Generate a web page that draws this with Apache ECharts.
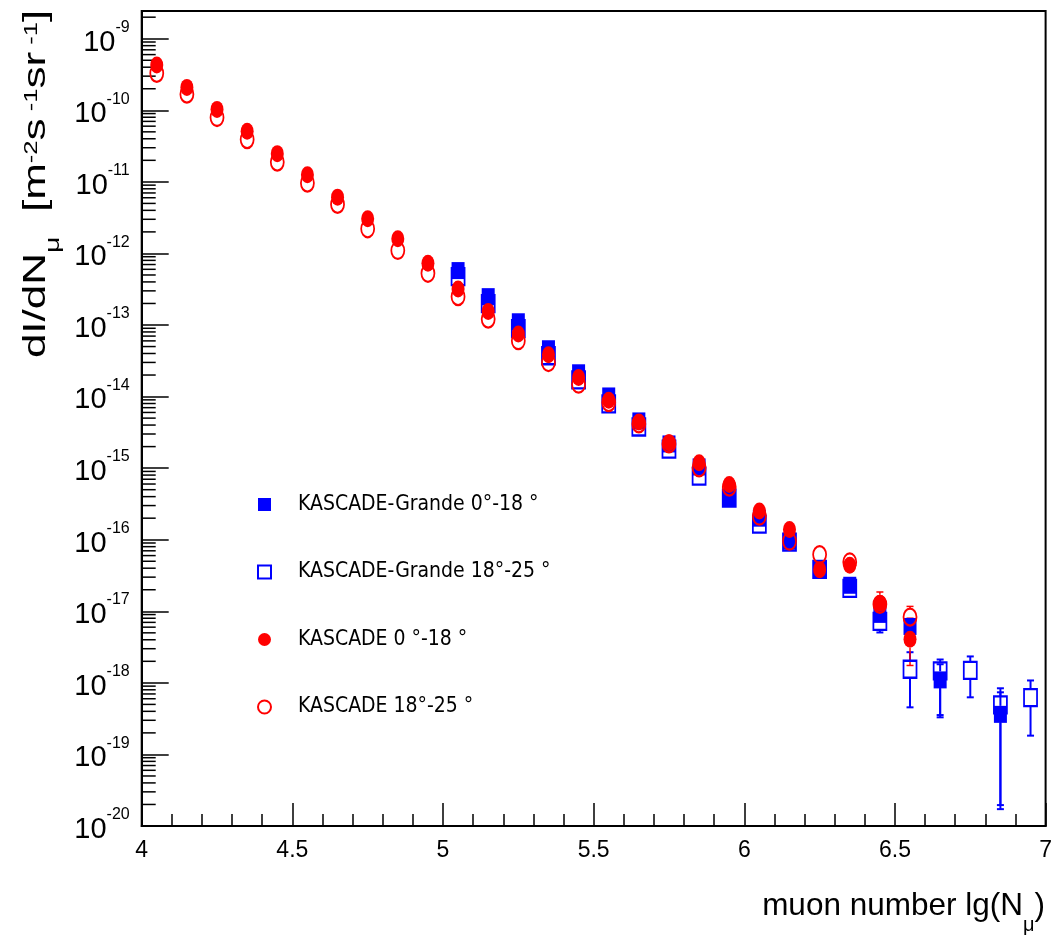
<!DOCTYPE html>
<html><head><meta charset="utf-8">
<script src="https://cdn.jsdelivr.net/npm/echarts@6/dist/echarts.min.js"></script>
<style>html,body{margin:0;padding:0;background:#fff}#c{width:1055px;height:935px}</style>
</head><body><div id="c"></div>
<script>
// ---- data ----
const lgN = [4.05,4.15,4.25,4.35,4.45,4.55,4.65,4.75,4.85,4.95,
             5.05,5.15,5.25,5.35,5.45,5.55,5.65,5.75,5.85,5.95,
             6.05,6.15,6.25,6.35,6.45,6.55,6.65,6.75,6.85,6.95];
// KASCADE-Grande 0-18 deg (filled blue squares)
const grandeVert = [null,null,null,null,null,null,null,null,null,null,
  5.76e-13,2.49e-13,1.11e-13,4.66e-14,2.15e-14,1.02e-14,4.57e-15,2.18e-15,1.04e-15,3.81e-16,
  2.00e-16,9.53e-17,3.86e-17,2.31e-17,9.05e-18,6.14e-18,1.10e-18,null,3.63e-19,null];
// KASCADE-Grande 18-25 deg (open blue squares)
const grandeIncl = [null,null,null,null,null,null,null,null,null,null,
  4.75e-13,1.99e-13,8.88e-14,3.72e-14,1.71e-14,7.90e-15,3.76e-15,1.85e-15,7.75e-16,3.81e-16,
  1.65e-16,9.23e-17,3.86e-17,2.09e-17,7.22e-18,1.55e-18,1.47e-18,1.49e-18,4.92e-19,6.22e-19];
// KASCADE 0-18 deg (filled red circles)
const kascadeVert = [4.28e-10,2.09e-10,1.03e-10,5.10e-11,2.48e-11,1.26e-11,6.12e-12,3.05e-12,1.60e-12,7.29e-13,
  3.19e-13,1.55e-13,7.48e-14,3.84e-14,1.85e-14,8.90e-15,4.42e-15,2.27e-15,1.19e-15,5.93e-16,
  2.51e-16,1.39e-16,3.82e-17,4.39e-17,1.30e-17,4.08e-18,null,null,null,null];
// KASCADE 18-25 deg (open red circles)
const kascadeIncl = [3.28e-10,1.68e-10,7.93e-11,3.90e-11,1.89e-11,9.62e-12,4.84e-12,2.21e-12,1.10e-12,5.28e-13,
  2.49e-13,1.21e-13,6.03e-14,2.99e-14,1.49e-14,8.24e-15,4.15e-15,2.18e-15,1.01e-15,5.44e-16,
  2.13e-16,9.53e-17,6.20e-17,4.89e-17,1.25e-17,8.29e-18,null,null,null,null];
// error bars: [lgN, lower, upper]
const grandeVertErr = [[6.65,3.30e-19,1.82e-18],[6.85,1.72e-20,7.38e-19]];
const grandeInclErr = [[6.45,5.06e-18,1.0e-17],[6.55,4.55e-19,2.68e-18],[6.65,3.55e-19,2.12e-18],
  [6.75,6.28e-19,2.34e-18],[6.85,1.96e-20,8.40e-19],[6.95,1.83e-19,1.08e-18]];
const kascadeVertErr = [[6.45,8.48e-18,1.86e-17],[6.55,1.75e-18,8.0e-18]];
const kascadeInclErr = [[6.55,5.5e-18,1.17e-17]];
const seriesNames = ['KASCADE-Grande 0°-18 °','KASCADE-Grande 18°-25 °','KASCADE 0 °-18 °','KASCADE 18°-25 °'];
const xTicks = {min:4, max:7, step:0.5};
const yDecades = {min:1e-20, max:2.44e-9};
const minorMantissas = [2,3,4,5,6,7,8,9];

// ---- styles ----
const FONT = "'Liberation Sans', Arial, sans-serif";
const NARROW = "'Liberation Sans Narrow', 'DejaVu Sans Condensed', sans-serif";
const BLUE = '#0000ff', RED = '#ff0000', CLEAR = 'rgba(0,0,0,0)';
const ELLIPSE = 'path://M0,50A50,50,0,1,1,100,50A50,50,0,1,1,0,50Z';
const MSIZE = [13,17];

function pts(vals){ return lgN.map((x,i)=> vals[i]==null ? null : [x, vals[i]]).filter(Boolean); }

function errSeries(errs, vals, color, lw, z){
  const data = errs.map(e => [e[0], e[1], e[2], vals[lgN.indexOf(e[0])]]);
  return {
    type:'custom', silent:true, z, data, encode:{x:0, y:[1,2,3]},
    renderItem(params, api){
      const x = api.value(0), lo = api.value(1), hi = api.value(2), c = api.value(3);
      const pc = api.coord([x,c]), pl = api.coord([x,lo]), ph = api.coord([x,hi]);
      const half = MSIZE[1]/2, cap = 3.5, st = {stroke:color, lineWidth:lw}, ch = [];
      if (ph[1] < pc[1]-half) ch.push({type:'line', shape:{x1:pc[0],y1:ph[1],x2:pc[0],y2:pc[1]-half}, style:st});
      if (pl[1] > pc[1]+half) ch.push({type:'line', shape:{x1:pc[0],y1:pc[1]+half,x2:pc[0],y2:pl[1]}, style:st});
      ch.push({type:'line', shape:{x1:pc[0]-cap,y1:ph[1],x2:pc[0]+cap,y2:ph[1]}, style:st});
      ch.push({type:'line', shape:{x1:pc[0]-cap,y1:pl[1],x2:pc[0]+cap,y2:pl[1]}, style:st});
      return {type:'group', children:ch};
    }
  };
}

// minor y ticks (2..9 x 10^n) drawn through the log axis
const minorData = [];
for (let n = -20; n <= -9; n++) for (const k of minorMantissas) {
  const v = k * Math.pow(10, n);
  if (v < yDecades.max) minorData.push([xTicks.min, v]);
}

const chart = echarts.init(document.getElementById('c'), null, {renderer:'canvas'});
chart.setOption({
  animation:false,
  backgroundColor:'#fff',
  grid:{left:141.7, right:9, top:11, bottom:109, show:true, borderColor:'#000', borderWidth:2},
  xAxis:{
    type:'value', min:xTicks.min, max:xTicks.max, interval:xTicks.step,
    axisLine:{lineStyle:{color:'#000', width:2}},
    axisTick:{inside:true, length:23, lineStyle:{color:'#000', width:1.5}},
    minorTick:{show:true, splitNumber:5, length:12, lineStyle:{color:'#000', width:1.5}},
    splitLine:{show:false},
    axisLabel:{margin:12,
      formatter: v => '{t|' + v + '}',
      rich:{t:{fontFamily:FONT, fontSize:23, lineHeight:26, color:'#000'}}}
  },
  yAxis:{
    type:'log', logBase:10, min:yDecades.min, max:yDecades.max, interval:1,
    axisLine:{lineStyle:{color:'#000', width:2}},
    axisTick:{inside:true, length:27, lineStyle:{color:'#000', width:1.5}},
    splitLine:{show:false},
    axisLabel:{
      margin:12, padding:[7.6,0,0,0],
      formatter: v => { const e = Math.log10(v), r = Math.round(e);
        if (Math.abs(e-r) > 1e-6) return ''; return '{b|10}{e|' + r + '}'; },
      rich:{
        b:{fontFamily:FONT, fontSize:29, lineHeight:46, verticalAlign:'middle', color:'#000'},
        e:{fontFamily:FONT, fontSize:16, lineHeight:16, verticalAlign:'top', color:'#000'}
      }
    }
  },
  legend:{
    orient:'vertical', left:252, top:489, itemWidth:13, itemHeight:13, itemGap:46.5,
    selectedMode:false,
    textStyle:{fontFamily:NARROW, fontSize:21, color:'#000', padding:[0,0,3,22]},
    data:[
      {name:seriesNames[0], icon:'rect', itemStyle:{color:BLUE}},
      {name:seriesNames[1], icon:'rect', itemStyle:{color:CLEAR, borderColor:BLUE, borderWidth:2}},
      {name:seriesNames[2], icon:'circle', itemStyle:{color:RED}},
      {name:seriesNames[3], icon:'circle', itemStyle:{color:CLEAR, borderColor:RED, borderWidth:2}}
    ]
  },
  graphic:[
    {type:'text', x:36, y:184, rotation:Math.PI/2, scaleX:1.42, silent:true,
     style:{text:'{n|dI/dN}{sub|μ}{n|  [m}{sup|-2}{n|s}{sup| -1}{n|sr}{sup| -1}{n|]}',
       align:'center', verticalAlign:'middle', fill:'#000',
       rich:{
         n:{fontFamily:FONT, fontSize:31, lineHeight:54, verticalAlign:'middle', fill:'#000'},
         sup:{fontFamily:FONT, fontSize:18, lineHeight:18, verticalAlign:'top', padding:[13.6,0,0,0], fill:'#000'},
         sub:{fontFamily:FONT, fontSize:20, lineHeight:20, verticalAlign:'bottom', fill:'#000'}
       }}},
    {type:'text', x:1045, y:906, silent:true,
     style:{text:'{n|muon number lg(N}{sub|μ}{n|)}', align:'right', verticalAlign:'middle', fill:'#000',
       rich:{
         n:{fontFamily:FONT, fontSize:31.5, lineHeight:58, verticalAlign:'middle', fill:'#000'},
         sub:{fontFamily:FONT, fontSize:20, lineHeight:20, verticalAlign:'bottom', fill:'#000'}
       }}}
  ],
  series:[
    {type:'custom', silent:true, z:1, data:minorData, encode:{x:0, y:1},
     renderItem(params, api){
       const p = api.coord([api.value(0), api.value(1)]);
       return {type:'line', shape:{x1:p[0], y1:p[1], x2:p[0]+14, y2:p[1]}, style:{stroke:'#000', lineWidth:1.5}};
     }},
    errSeries(grandeVertErr, grandeVert, BLUE, 2, 2),
    errSeries(grandeInclErr, grandeIncl, BLUE, 2, 2),
    errSeries(kascadeVertErr, kascadeVert, RED, 1.5, 2),
    errSeries(kascadeInclErr, kascadeIncl, RED, 1.5, 2),
    {type:'scatter', name:seriesNames[0], z:3, silent:true, data:pts(grandeVert), symbol:'rect', symbolSize:MSIZE,
     itemStyle:{color:BLUE, opacity:1}},
    {type:'scatter', name:seriesNames[1], z:3, silent:true, data:pts(grandeIncl), symbol:'rect', symbolSize:MSIZE,
     itemStyle:{color:CLEAR, borderColor:BLUE, borderWidth:2, opacity:1}},
    {type:'scatter', name:seriesNames[2], z:4, silent:true, data:pts(kascadeVert), symbol:ELLIPSE, symbolSize:MSIZE,
     itemStyle:{color:RED, opacity:1}},
    {type:'scatter', name:seriesNames[3], z:4, silent:true, data:pts(kascadeIncl), symbol:ELLIPSE, symbolSize:MSIZE,
     itemStyle:{color:CLEAR, borderColor:RED, borderWidth:2, opacity:1}}
  ]
});
</script>
</body></html>
